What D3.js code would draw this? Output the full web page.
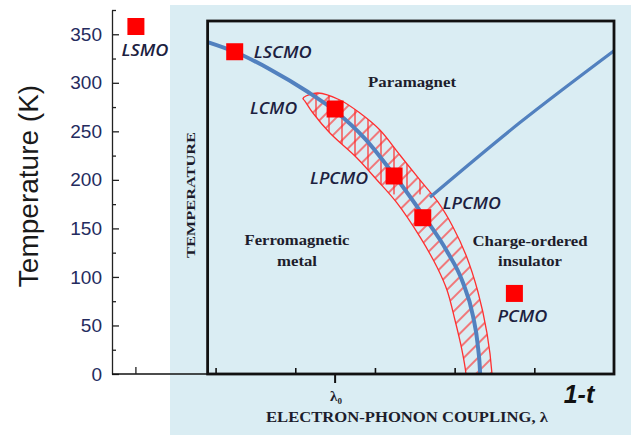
<!DOCTYPE html>
<html>
<head>
<meta charset="utf-8">
<script src="https://cdn.jsdelivr.net/npm/d3@7"></script>
<style>
  html, body { margin: 0; padding: 0; background: #fff; }
  svg { display: block; }
</style>
</head>
<body>
<script>
// Temperature axis (K)
const tempMajor = [0, 50, 100, 150, 200, 250, 300, 350];
const tempMinor = [25, 75, 125, 175, 225, 275, 325, 375];

// Coupling axis (1-t), arbitrary units
const couplingTicks = [0, 1, 2, 3, 4];
const lsmoTick = [-1];
const lambda0 = 1.5;

// Samples
const sampleNames = ["LSMO", "LSCMO", "LCMO", "LPCMO", "LPCMO", "PCMO"];
const sampleU = [-1.0, 0.24, 1.5, 2.24, 2.6, 3.75];
const sampleT = [358, 332, 273, 204, 161, 83];

// Phase boundary ferromagnetic metal / paramagnet
const boundaryFM = [
  [-0.1, 342], [0.24, 332], [0.68, 314], [1.15, 291], [1.5, 271], [1.88, 242],
  [2.24, 205], [2.6, 164], [2.9, 127], [3.1, 95], [3.23, 60], [3.29, 30], [3.32, 0], [3.322, -8]
];
// Phase boundary charge-ordered insulator / paramagnet
const boundaryCO = [[2.69, 182], [3.82, 259], [5.0, 333]];

// Hatched coexistence band
const bandTip = [1.096, 283.8];
const bandUpper = [
  [1.134, 286.4], [1.284, 289.5], [1.56, 282.3], [1.811, 268.9], [2.062, 251.4],
  [2.313, 225.6], [2.564, 199.9], [2.79, 177.2], [2.979, 151.5], [3.142, 122.6],
  [3.293, 84.5], [3.406, 42.2], [3.469, 0], [3.472, -10]
];
const bandLower = [
  [1.121, 281.2], [1.222, 268.9], [1.435, 248.3], [1.774, 222.6], [2.025, 199.9],
  [2.276, 176.2], [2.565, 141.2], [2.778, 110.2], [2.904, 86.5], [3.004, 55.6],
  [3.092, 24.7], [3.142, 0], [3.144, -10]
];
const verticalHatchAbove = 185; // K

const W = 631, H = 435;
const boxLeftU = -0.1, boxRightU = 5.0, boxTopY = 21;

const x = d3.scaleLinear().domain([-1.3, 5]).range([112, 614]);
const y = d3.scaleLinear().domain([0, 375]).range([374, 10]);

const svg = d3.select("body").append("svg")
  .attr("width", W).attr("height", H)
  .style("font-family", "'Liberation Sans', Arial, sans-serif");

const defs = svg.append("defs");
defs.append("clipPath").attr("id", "box-clip")
  .append("rect")
  .attr("x", x(boxLeftU)).attr("y", boxTopY)
  .attr("width", x(boxRightU) - x(boxLeftU))
  .attr("height", y(0) - boxTopY);

const line = d3.line().x((d) => x(d[0])).y((d) => y(d[1]));
const bandPts = bandLower.slice().reverse().concat([bandTip], bandUpper);
const bandPath = line.curve(d3.curveCatmullRom.alpha(0.5))(bandPts) + "Z";

defs.append("clipPath").attr("id", "band-clip")
  .append("path").attr("d", bandPath);

const hatch = defs.append("pattern")
  .attr("id", "hatch")
  .attr("patternUnits", "userSpaceOnUse")
  .attr("width", 10).attr("height", 10)
  .attr("patternTransform", "rotate(45)");
hatch.append("line")
  .attr("x1", 1).attr("y1", 0).attr("x2", 1).attr("y2", 10)
  .attr("stroke", "#ff2a2a").attr("stroke-width", 1.2);

const vhatch = defs.append("pattern")
  .attr("id", "vhatch")
  .attr("patternUnits", "userSpaceOnUse")
  .attr("width", 13).attr("height", 10)
  .attr("x", 3);
vhatch.append("line")
  .attr("x1", 1).attr("y1", 0).attr("x2", 1).attr("y2", 10)
  .attr("stroke", "#ff2a2a").attr("stroke-width", 1.2);

// light blue panel behind the schematic
svg.append("rect")
  .attr("x", 170).attr("y", 5)
  .attr("width", W - 170).attr("height", H - 5)
  .attr("fill", "#daedf3");

const plot = svg.append("g").attr("clip-path", "url(#box-clip)");

plot.append("path")
  .attr("d", bandPath)
  .attr("fill", "url(#hatch)")
  .attr("stroke", "none");

plot.append("g").attr("clip-path", "url(#band-clip)")
  .append("rect")
  .attr("x", x(boxLeftU)).attr("y", boxTopY)
  .attr("width", x(boxRightU) - x(boxLeftU))
  .attr("height", y(verticalHatchAbove) - boxTopY)
  .attr("fill", "url(#vhatch)");

plot.append("path")
  .attr("d", bandPath)
  .attr("fill", "none")
  .attr("stroke", "#ff3030")
  .attr("stroke-width", 1.3);

plot.append("path")
  .attr("d", line.curve(d3.curveMonotoneX)(boundaryFM))
  .attr("fill", "none")
  .attr("stroke", "#5281bf")
  .attr("stroke-width", 4);

plot.append("path")
  .attr("d", line.curve(d3.curveCatmullRom.alpha(0.5))(boundaryCO))
  .attr("fill", "none")
  .attr("stroke", "#5281bf")
  .attr("stroke-width", 3.2);

// outer temperature axis
const yAxis = svg.append("g")
  .attr("transform", `translate(${x(-1.3)},0)`)
  .call(d3.axisLeft(y).tickValues(tempMajor).tickSize(-7).tickSizeOuter(0).tickPadding(10));
yAxis.select(".domain").attr("stroke", "#222").attr("stroke-width", 1.3);
yAxis.selectAll(".tick line").attr("stroke", "#222").attr("stroke-width", 1.3);
yAxis.selectAll(".tick text")
  .attr("fill", "#242b5e")
  .style("font-size", "19px")
  .style("font-family", "'Liberation Sans', Arial, sans-serif");

const yMinor = svg.append("g")
  .attr("transform", `translate(${x(-1.3)},0)`)
  .call(d3.axisLeft(y).tickValues(tempMinor).tickSize(-4).tickFormat(""));
yMinor.select(".domain").remove();
yMinor.selectAll(".tick line").attr("stroke", "#222").attr("stroke-width", 1.3);

// outer x axis line up to the box
svg.append("line")
  .attr("x1", x(-1.3)).attr("x2", x(boxLeftU))
  .attr("y1", y(0)).attr("y2", y(0))
  .attr("stroke", "#111").attr("stroke-width", 1.6);

svg.selectAll(".lsmo-tick")
  .data(lsmoTick)
  .join("line")
  .attr("class", "lsmo-tick")
  .attr("x1", (d) => x(d)).attr("x2", (d) => x(d))
  .attr("y1", y(0)).attr("y2", y(0) - 7)
  .attr("stroke", "#222").attr("stroke-width", 1.3);

// inner schematic box
svg.append("rect")
  .attr("x", x(boxLeftU)).attr("y", boxTopY)
  .attr("width", x(boxRightU) - x(boxLeftU))
  .attr("height", y(0) - boxTopY)
  .attr("fill", "none")
  .attr("stroke", "#111")
  .attr("stroke-width", 2.8);

const xInner = svg.append("g")
  .attr("transform", `translate(0,${y(0)})`)
  .call(d3.axisBottom(x).tickValues(couplingTicks).tickSize(-6).tickFormat(""));
xInner.select(".domain").remove();
xInner.selectAll(".tick line").attr("stroke", "#111").attr("stroke-width", 1.6);

svg.append("line")
  .attr("x1", x(lambda0)).attr("x2", x(lambda0))
  .attr("y1", y(0)).attr("y2", y(0) + 9)
  .attr("stroke", "#111").attr("stroke-width", 2);

// sample squares
const samples = sampleNames.map((n, i) => ({ name: n, u: sampleU[i], t: sampleT[i], i: i }));
const sq = 17;
svg.selectAll(".sample")
  .data(samples)
  .join("rect")
  .attr("class", "sample")
  .attr("x", (d) => x(d.u) - sq / 2)
  .attr("y", (d) => y(d.t) - sq / 2)
  .attr("width", sq).attr("height", sq)
  .attr("fill", "#ff0000");

// sample labels: anchor, dx, dy from square centre, text width
const labelLayout = [
  ["middle", 9, 29, 47],
  ["start", 19, 6, 58],
  ["end", -38, 5, 47],
  ["end", -26, 8, 58],
  ["start", 20, -9, 58],
  ["middle", 8, 29, 50]
];
svg.selectAll(".sample-label")
  .data(samples)
  .join("text")
  .attr("class", "sample-label")
  .attr("x", (d) => x(d.u) + labelLayout[d.i][1])
  .attr("y", (d) => y(d.t) + labelLayout[d.i][2])
  .attr("text-anchor", (d) => labelLayout[d.i][0])
  .attr("textLength", (d) => labelLayout[d.i][3])
  .attr("lengthAdjust", "spacingAndGlyphs")
  .style("font-family", "'Open Sans', 'DejaVu Sans', sans-serif")
  .style("font-style", "italic")
  .style("font-weight", "600")
  .style("font-size", "16px")
  .attr("fill", "#1c2140")
  .text((d) => d.name);

// serif labels inside the schematic
const serif = "'Liberation Serif', 'Times New Roman', serif";
function serifText(txt, cx, by, len, size) {
  return svg.append("text")
    .attr("x", cx).attr("y", by)
    .attr("text-anchor", "middle")
    .attr("textLength", len)
    .attr("lengthAdjust", "spacingAndGlyphs")
    .style("font-family", serif)
    .style("font-weight", "bold")
    .style("font-size", size + "px")
    .attr("fill", "#1d1d2c")
    .text(txt);
}
serifText("Paramagnet", 412, 87, 88, 15);
serifText("Ferromagnetic", 297, 245, 105, 15);
serifText("metal", 297, 266, 40, 15);
serifText("Charge-ordered", 530, 246, 115, 15);
serifText("insulator", 530, 266, 64, 15);
serifText("ELECTRON-PHONON COUPLING, λ", 407, 422, 282, 15);

svg.append("text")
  .attr("transform", "translate(195,195) rotate(-90)")
  .attr("text-anchor", "middle")
  .attr("textLength", 126)
  .attr("lengthAdjust", "spacingAndGlyphs")
  .style("font-family", serif)
  .style("font-weight", "bold")
  .style("font-size", "13px")
  .attr("fill", "#1d1d2c")
  .text("TEMPERATURE");

const l0 = svg.append("text")
  .attr("x", x(lambda0) - 5).attr("y", 401)
  .style("font-family", serif)
  .style("font-weight", "bold")
  .style("font-size", "15px")
  .attr("fill", "#1d1d2c");
l0.append("tspan").text("λ");
l0.append("tspan").attr("dy", 3).style("font-size", "9px").text("0");

svg.append("text")
  .attr("x", 579).attr("y", 403)
  .attr("text-anchor", "middle")
  .style("font-family", "'Liberation Sans', Arial, sans-serif")
  .style("font-weight", "bold")
  .style("font-style", "italic")
  .style("font-size", "25px")
  .attr("fill", "#111")
  .text("1-t");

svg.append("text")
  .attr("transform", "translate(38,186) rotate(-90)")
  .attr("text-anchor", "middle")
  .style("font-family", "'Liberation Sans', Arial, sans-serif")
  .style("font-size", "28px")
  .attr("fill", "#1a1a1a")
  .text("Temperature (K)");
</script>
</body>
</html>
